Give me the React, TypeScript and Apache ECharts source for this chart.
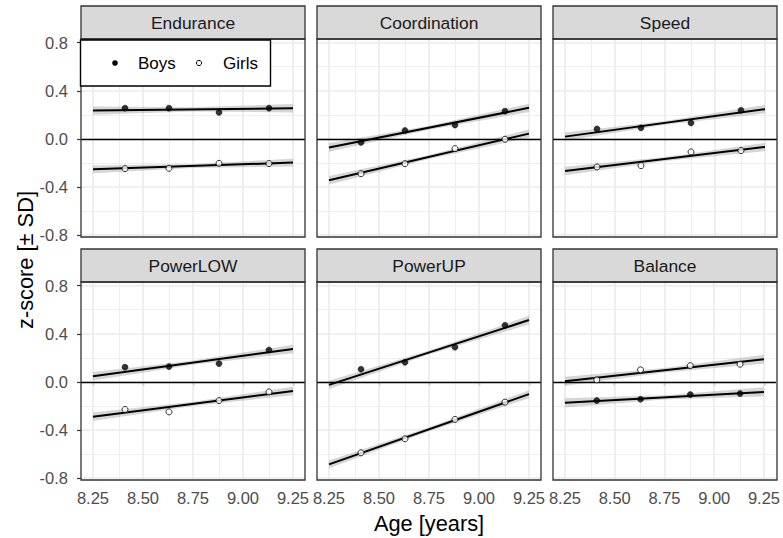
import React, { useEffect, useRef } from "react";
import * as echarts from "echarts";

// Facet titles, in reading order (row by row)
const PANELS = ["Endurance", "Coordination", "Speed", "PowerLOW", "PowerUP", "Balance"];

// Mean age of each measurement wave (years)
const AGES = [8.41, 8.63, 8.88, 9.13];

// Mean z-scores per panel and wave
const BOYS = [
  [0.255, 0.255, 0.22, 0.255],
  [-0.03, 0.07, 0.115, 0.23],
  [0.083, 0.092, 0.133, 0.238],
  [0.122, 0.127, 0.152, 0.265],
  [0.105, 0.163, 0.288, 0.47],
  [-0.155, -0.144, -0.105, -0.097],
];
const GIRLS = [
  [-0.247, -0.244, -0.203, -0.205],
  [-0.289, -0.206, -0.081, -0.003],
  [-0.233, -0.222, -0.108, -0.097],
  [-0.229, -0.249, -0.155, -0.083],
  [-0.589, -0.473, -0.312, -0.168],
  [0.017, 0.1, 0.135, 0.147],
];

// Linear fits: value at the start and end of the fitted age range
const FIT_AGES = [8.25, 9.25];
const BOYS_FIT = [
  [0.235, 0.255],
  [-0.072, 0.258],
  [0.019, 0.247],
  [0.047, 0.274],
  [-0.025, 0.514],
  [-0.174, -0.083],
];
const GIRLS_FIT = [
  [-0.253, -0.197],
  [-0.344, 0.044],
  [-0.267, -0.067],
  [-0.29, -0.075],
  [-0.685, -0.102],
  [0.005, 0.188],
];

// Half-width of the confidence band at start, middle and end of the fit
const BOYS_CI = [
  [0.035, 0.017, 0.035],
  [0.035, 0.016, 0.035],
  [0.035, 0.016, 0.035],
  [0.035, 0.017, 0.035],
  [0.035, 0.017, 0.035],
  [0.038, 0.018, 0.038],
];
const GIRLS_CI = [
  [0.033, 0.016, 0.033],
  [0.035, 0.016, 0.035],
  [0.035, 0.016, 0.035],
  [0.035, 0.017, 0.035],
  [0.033, 0.016, 0.033],
  [0.038, 0.018, 0.038],
];

// Axis breaks
const X_TICKS = [8.25, 8.5, 8.75, 9.0, 9.25];
const X_MINOR = [8.375, 8.625, 8.875, 9.125];
const Y_TICKS = [-0.8, -0.4, 0, 0.4, 0.8];
const Y_MINOR = [-0.6, -0.2, 0.2, 0.6];
const X_RANGE = [8.19, 9.31];
const Y_RANGE = [-0.815, 0.83];

// Panel geometry (px)
const COL_LEFT = [81, 317, 553];
const ROW_TOP = [39, 282];
const PANEL_W = 224;
const PANEL_H = 198;
const STRIP_H = 33;

const FONT = "'Liberation Sans', Arial, Helvetica, sans-serif";
const GRID_COLOR = "#ebebeb";
const FRAME = "#333333";

export default function App() {
  const ref = useRef<HTMLDivElement>(null);

  useEffect(() => {
    if (!ref.current) return;
    const chart = echarts.init(ref.current, null, { renderer: "svg" });

    const grids: any[] = [];
    const xAxes: any[] = [];
    const yAxes: any[] = [];
    const series: any[] = [];
    const graphics: any[] = [];

    PANELS.forEach((name, p) => {
      const col = p % 3;
      const row = Math.floor(p / 3);
      const left = COL_LEFT[col];
      const top = ROW_TOP[row];
      const showX = row === 1;
      const showY = col === 0;

      grids.push({ left, top, width: PANEL_W, height: PANEL_H, containLabel: false });

      xAxes.push({
        type: "value",
        gridIndex: p,
        min: X_RANGE[0],
        max: X_RANGE[1],
        axisLine: { show: false },
        splitLine: { show: false },
        axisTick: {
          show: showX,
          customValues: X_TICKS,
          length: 4,
          lineStyle: { color: FRAME, width: 1.2 },
        },
        axisLabel: {
          show: showX,
          customValues: X_TICKS,
          formatter: (v: number) => v.toFixed(2),
          fontSize: 16.5,
          fontFamily: FONT,
          color: "#4d4d4d",
          margin: 9,
        },
      });

      yAxes.push({
        type: "value",
        gridIndex: p,
        min: Y_RANGE[0],
        max: Y_RANGE[1],
        axisLine: { show: false },
        splitLine: { show: false },
        axisTick: {
          show: showY,
          customValues: Y_TICKS,
          length: 4,
          lineStyle: { color: FRAME, width: 1.2 },
        },
        axisLabel: {
          show: showY,
          customValues: Y_TICKS,
          formatter: (v: number) => v.toFixed(1),
          fontSize: 16.5,
          fontFamily: FONT,
          color: "#4d4d4d",
          margin: 13,
        },
      });

      // panel grid lines
      const major = { color: GRID_COLOR, width: 1.7, type: "solid" };
      const minor = { color: GRID_COLOR, width: 0.85, type: "solid" };
      series.push({
        type: "line",
        xAxisIndex: p,
        yAxisIndex: p,
        data: [],
        z: 1,
        silent: true,
        markLine: {
          z: 1,
          silent: true,
          symbol: ["none", "none"],
          label: { show: false },
          lineStyle: { type: "solid" },
          data: [
            ...Y_MINOR.map((v) => ({ yAxis: v, lineStyle: minor })),
            ...X_MINOR.map((v) => ({ xAxis: v, lineStyle: minor })),
            ...Y_TICKS.map((v) => ({ yAxis: v, lineStyle: major })),
            ...X_TICKS.map((v) => ({ xAxis: v, lineStyle: major })),
          ],
        },
      });

      // confidence bands of the linear fits
      series.push({
        type: "custom",
        xAxisIndex: p,
        yAxisIndex: p,
        z: 2,
        silent: true,
        data: [
          [8.75, 0],
          [8.75, 0],
        ],
        renderItem: (params: any, api: any) => {
          const boys = params.dataIndex === 0;
          const fit = boys ? BOYS_FIT[p] : GIRLS_FIT[p];
          const ci = boys ? BOYS_CI[p] : GIRLS_CI[p];
          const xs = [FIT_AGES[0], (FIT_AGES[0] + FIT_AGES[1]) / 2, FIT_AGES[1]];
          const ys = [fit[0], (fit[0] + fit[1]) / 2, fit[1]];
          const upper = xs.map((x, i) => api.coord([x, ys[i] + ci[i]]));
          const lower = xs.map((x, i) => api.coord([x, ys[i] - ci[i]])).reverse();
          return {
            type: "polygon",
            shape: { points: [...upper, ...lower] },
            style: { fill: "rgba(153,153,153,0.4)" },
          };
        },
      });

      // reference line at zero
      series.push({
        type: "line",
        xAxisIndex: p,
        yAxisIndex: p,
        data: [],
        z: 3,
        silent: true,
        markLine: {
          z: 3,
          silent: true,
          symbol: ["none", "none"],
          label: { show: false },
          lineStyle: { type: "solid", color: "#000", width: 1.3 },
          data: [{ yAxis: 0 }],
        },
      });

      // fitted lines
      [BOYS_FIT[p], GIRLS_FIT[p]].forEach((fit, s) => {
        series.push({
          type: "line",
          name: s === 0 ? "Boys fit" : "Girls fit",
          xAxisIndex: p,
          yAxisIndex: p,
          z: 4,
          silent: true,
          showSymbol: false,
          symbol: "none",
          lineStyle: { color: "#000", width: 2 },
          data: FIT_AGES.map((a, i) => [a, fit[i]]),
        });
      });

      // group means
      series.push({
        type: "scatter",
        name: "Boys",
        xAxisIndex: p,
        yAxisIndex: p,
        z: 6,
        symbol: "circle",
        symbolSize: 6,
        itemStyle: { color: "#000", borderColor: "#000", borderWidth: 0.6 },
        data: AGES.map((a, i) => [a, BOYS[p][i]]),
      });
      series.push({
        type: "scatter",
        name: "Girls",
        xAxisIndex: p,
        yAxisIndex: p,
        z: 6,
        symbol: "circle",
        symbolSize: 6,
        itemStyle: { color: "#fff", borderColor: "#000", borderWidth: 1 },
        data: AGES.map((a, i) => [a, GIRLS[p][i]]),
      });

      // facet strip
      graphics.push({
        type: "rect",
        z: 90,
        shape: { x: left, y: top - STRIP_H, width: PANEL_W, height: STRIP_H },
        style: { fill: "#d9d9d9", stroke: FRAME, lineWidth: 1.3 },
      });
      graphics.push({
        type: "text",
        z: 91,
        x: left + PANEL_W / 2,
        y: top - STRIP_H / 2,
        style: {
          text: name,
          fontSize: 17.4,
          fontFamily: FONT,
          fill: "#1a1a1a",
          align: "center",
          verticalAlign: "middle",
        },
      });
      // panel frame
      graphics.push({
        type: "rect",
        z: 90,
        shape: { x: left, y: top, width: PANEL_W, height: PANEL_H },
        style: { fill: "none", stroke: FRAME, lineWidth: 1.3 },
      });
    });

    // legend box inside the first panel
    const lgX = 80.5;
    const lgY = 40;
    const lgCy = 63;
    graphics.push(
      {
        type: "rect",
        z: 95,
        shape: { x: lgX, y: lgY, width: 190, height: 46 },
        style: { fill: "#fff", stroke: "#000", lineWidth: 1.4 },
      },
      {
        type: "circle",
        z: 96,
        shape: { cx: 115, cy: lgCy, r: 2.8 },
        style: { fill: "#000" },
      },
      {
        type: "text",
        z: 96,
        x: 138,
        y: lgCy,
        style: { text: "Boys", fontSize: 17, fontFamily: FONT, fill: "#000", verticalAlign: "middle" },
      },
      {
        type: "circle",
        z: 96,
        shape: { cx: 199, cy: lgCy, r: 2.6 },
        style: { fill: "#fff", stroke: "#000", lineWidth: 1 },
      },
      {
        type: "text",
        z: 96,
        x: 223,
        y: lgCy,
        style: { text: "Girls", fontSize: 17, fontFamily: FONT, fill: "#000", verticalAlign: "middle" },
      }
    );

    // axis titles
    graphics.push(
      {
        type: "text",
        z: 96,
        x: 429,
        y: 523,
        style: {
          text: "Age [years]",
          fontSize: 21.8,
          fontFamily: FONT,
          fill: "#000",
          align: "center",
          verticalAlign: "middle",
        },
      },
      {
        type: "text",
        z: 96,
        x: 25,
        y: 260,
        rotation: Math.PI / 2,
        style: {
          text: "z-score [± SD]",
          fontSize: 21.8,
          fontFamily: FONT,
          fill: "#000",
          align: "center",
          verticalAlign: "middle",
        },
      }
    );

    chart.setOption({
      animation: false,
      backgroundColor: "#ffffff",
      grid: grids,
      xAxis: xAxes,
      yAxis: yAxes,
      series,
      graphic: graphics,
    });

    return () => chart.dispose();
  }, []);

  return (
    <div
      ref={ref}
      style={{ position: "fixed", left: 0, top: 0, width: 783, height: 538, background: "#fff" }}
    />
  );
}
